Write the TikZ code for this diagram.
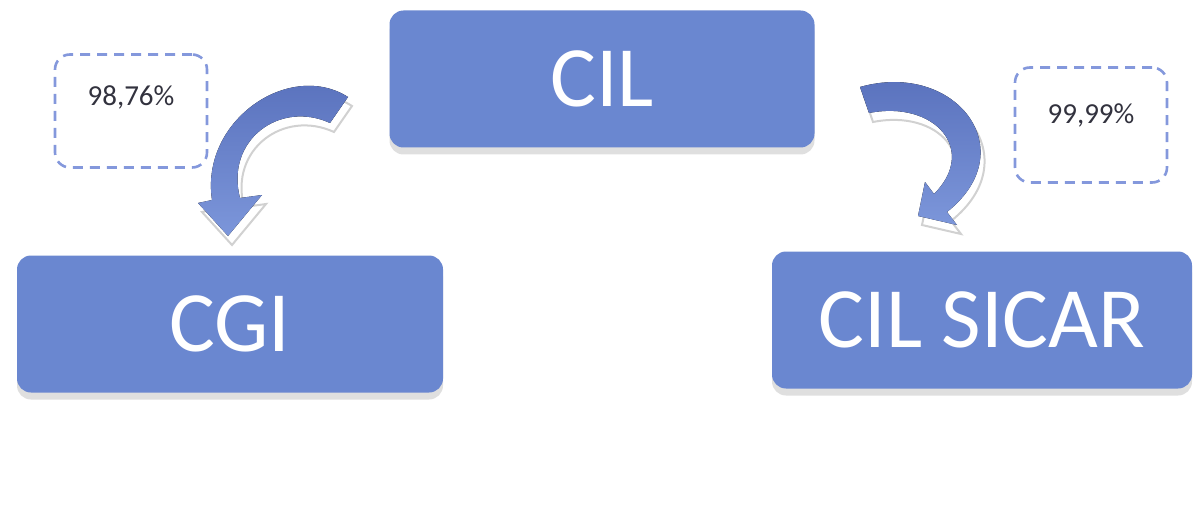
\documentclass[tikz,border=0pt]{standalone}
\usepackage{fontspec}
\setmainfont{Carlito}
\usetikzlibrary{shadows}
\definecolor{boxblue}{RGB}{106,135,208}
\definecolor{arrowdark}{RGB}{86,110,186}
\definecolor{arrowlight}{RGB}{124,150,218}
\definecolor{dashblue}{RGB}{132,152,220}
\definecolor{pcttext}{RGB}{50,50,62}
\newcommand{\leftbendpath}{(348,97) .. controls (290,60) and (200,120) .. (212,200) -- (198,203) -- (228,236)
     -- (262,195) -- (240,198) .. controls (225,140) and (280,100) .. (330,123) -- cycle}
\newcommand{\rightbendpath}{(860,87) .. controls (955,60) and (1025,150) .. (947,212) -- (957,225) -- (918,216)
     -- (925,182) -- (934,194) .. controls (978,150) and (935,100) .. (869,113) -- cycle}

\begin{document}
\begin{tikzpicture}[x=1pt,y=-1pt,
    entity/.style={rectangle,rounded corners=14pt,fill=boxblue,text=white,
      minimum height=137pt,font=\fontsize{86}{90}\selectfont,
      drop shadow={shadow xshift=0pt,shadow yshift=-7pt,fill=black!25,opacity=0.5}},
    share/.style={rectangle,rounded corners=15pt,draw=dashblue,line width=2.6pt,
      dash pattern=on 10pt off 7pt,minimum width=152pt,
      text=pcttext,font=\fontsize{29}{31}\selectfont},
    curvearrow/.style={top color=arrowdark,bottom color=arrowlight,draw=none},
    mirrorline/.style={draw=black!18,line width=2pt}]
  \useasboundingbox (0,0) rectangle (1194,524);

  \node[entity,minimum width=425pt] (cil) at (602,79) {CIL};
  \node[entity,minimum width=426pt] (cgi) at (230,324) {CGI};
  \node[entity,minimum width=420pt] (cilsicar) at (982,320) {CIL SICAR};

  \node[share,minimum height=113pt,text depth=30pt] (pctcgi) at (131,111) {98,76\%};
  \node[share,minimum height=115pt,text depth=22pt] (pctsicar) at (1091,125) {99,99\%};

  % curved arrows, with their faint reflection
  \draw[mirrorline,shift={(4,9)}] \leftbendpath;
  \draw[mirrorline,shift={(4,9)}] \rightbendpath;
  \fill[curvearrow] \leftbendpath;
  \fill[curvearrow] \rightbendpath;
\end{tikzpicture}
\end{document}
